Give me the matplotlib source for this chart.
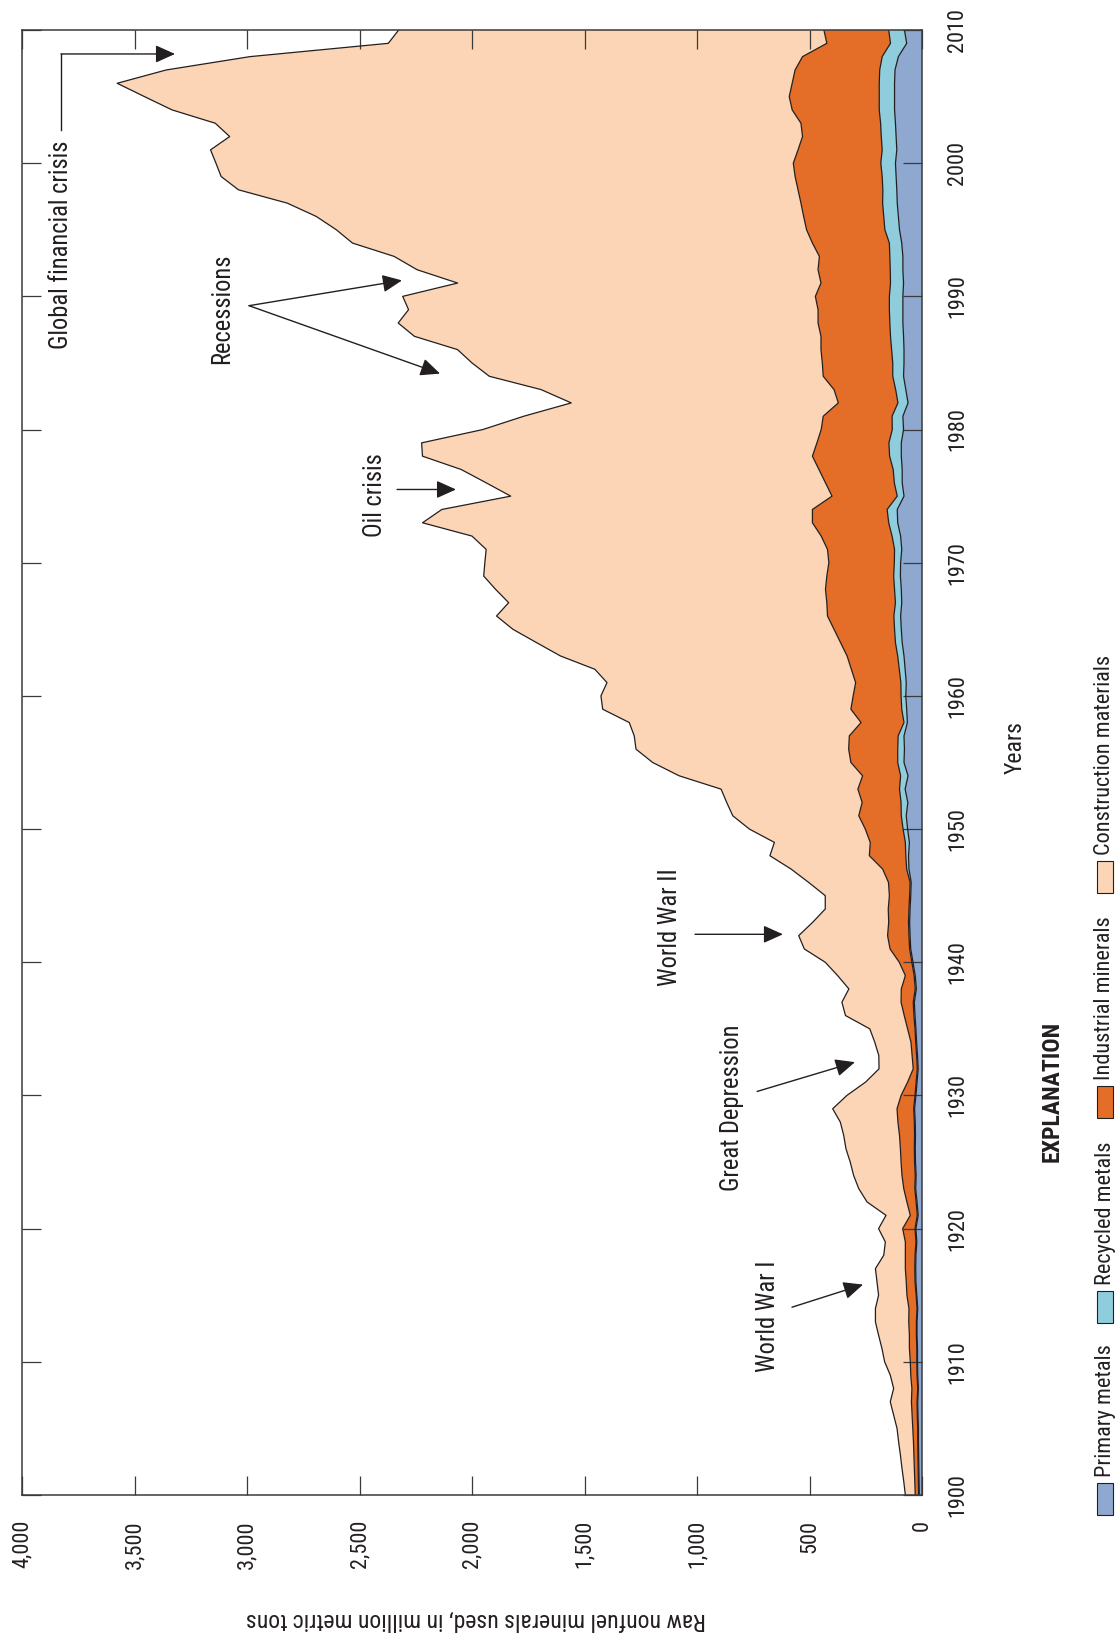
import matplotlib
matplotlib.use('Agg')
import matplotlib.pyplot as plt
from matplotlib import font_manager
from matplotlib.patches import Rectangle
import numpy as np

# million metric tons per year, 1900-2010
years = np.arange(1900, 2011)

primary = [
    12, 13, 14, 15, 16, 16, 18, 19, 16, 19,
    20, 20, 22, 22, 19, 23, 27, 28, 27, 23,
    27, 17, 22, 28, 26, 29, 30, 29, 30, 33,
    27, 22, 17, 20, 24, 27, 31, 34, 25, 30,
    40, 50, 53, 55, 53, 50, 48, 58, 60, 56,
    64, 70, 63, 75, 62, 80, 78, 80, 65, 68,
    72, 70, 75, 80, 88, 92, 95, 90, 92, 96,
    95, 90, 95, 108, 110, 80, 88, 88, 92, 92,
    82, 85, 62, 72, 82, 80, 80, 82, 85, 85,
    85, 82, 85, 85, 90, 100, 105, 110, 112, 115,
    118, 112, 115, 118, 122, 122, 122, 120, 105, 68,
    78]

recycled = [
    3, 3, 3, 3, 3, 3, 3, 3, 3, 3,
    3, 3, 3, 3, 3, 3, 4, 4, 4, 4,
    4, 4, 4, 4, 4, 4, 4, 4, 4, 4,
    4, 4, 4, 4, 4, 4, 5, 5, 5, 5,
    5, 5, 5, 5, 5, 5, 5, 10, 12, 18,
    20, 22, 30, 25, 33, 28, 30, 26, 15, 22,
    21, 24, 26, 28, 30, 30, 30, 28, 30, 30,
    28, 32, 38, 40, 45, 30, 35, 40, 52, 55,
    50, 48, 45, 45, 48, 50, 55, 58, 58, 60,
    60, 58, 56, 58, 55, 65, 65, 65, 62, 62,
    65, 65, 66, 66, 68, 68, 68, 68, 72, 72,
    70]

industrial = [
    15, 16, 17, 18, 19, 22, 23, 25, 26, 28,
    29, 33, 31, 34, 36, 41, 39, 42, 43, 47,
    55, 31, 41, 49, 59, 60, 62, 67, 73, 74,
    62, 38, 18, 20, 21, 33, 43, 54, 62, 39,
    56, 87, 95, 88, 92, 90, 96, 107, 162, 156,
    168, 189, 173, 185, 169, 208, 218, 217, 191, 226,
    213, 201, 213, 225, 244, 269, 295, 305, 307, 297,
    291, 298, 315, 339, 332, 290, 306, 330, 343, 320,
    316, 306, 265, 274, 309, 313, 314, 309, 319, 317,
    329, 309, 321, 313, 342, 348, 356, 363, 377, 387,
    389, 374, 350, 354, 387, 400, 387, 376, 354, 283,
    288]

construction = [
    44, 49, 55, 60, 66, 70, 82, 94, 81, 91,
    114, 122, 137, 148, 149, 126, 130, 133, 96, 89,
    107, 108, 177, 200, 215, 226, 242, 248, 256, 286,
    241, 187, 152, 148, 161, 168, 261, 263, 233, 301,
    329, 381, 395, 338, 280, 285, 355, 407, 442, 426,
    515, 560, 602, 608, 815, 881, 945, 956, 1030, 1103,
    1121, 1105, 1140, 1274, 1351, 1427, 1471, 1414, 1466, 1525,
    1529, 1517, 1552, 1733, 1647, 1428, 1508, 1590, 1733, 1757,
    1504, 1331, 1187, 1302, 1484, 1557, 1615, 1807, 1866, 1820,
    1834, 1615, 1782, 1890, 2044, 2090, 2166, 2283, 2487, 2551,
    2566, 2611, 2546, 2603, 2756, 2866, 3000, 2795, 2456, 1949,
    1890]

series_names = ['Primary metals', 'Recycled metals', 'Industrial minerals',
                'Construction materials']
series_colors = ['#8fa8cf', '#8fcddd', '#e46d27', '#fbd5b5']

value_ticks = [0, 500, 1000, 1500, 2000, 2500, 3000, 3500, 4000]
value_labels = ['0', '500', '1,000', '1,500', '2,000', '2,500', '3,000',
                '3,500', '4,000']
year_ticks = list(range(1900, 2011, 10))

# annotations: (text, text position, arrow path) in (value, year)
notes = [
    ('World War I', (684, 1913.4), [(578, 1914.1), (262, 1915.8)]),
    ('Great Depression', (844, 1929.1), [(733, 1930.3), (298, 1932.5)]),
    ('World War II', (1120, 1942.65), [(1009, 1942.1), (618, 1942.1)]),
    ('Oil crisis', (2431, 1975.1), [(2333, 1975.5), (2071, 1975.5)]),
]

INK = '#231f20'
W, H = 1120, 1644

# the original uses a condensed face; take one if the system has it
installed = {f.name for f in font_manager.fontManager.ttflist}
narrow = None
for cand in ['Liberation Sans Narrow', 'Roboto Condensed',
             'Noto Sans Condensed', 'Noto Sans SemiCondensed',
             'DejaVu Sans Condensed', 'Open Sans Condensed']:
    if cand in installed:
        narrow = cand
        break
if narrow is None:
    for n in sorted(installed):
        if ('Condensed' in n or 'Narrow' in n) and 'Extra' not in n:
            narrow = n
            break
if narrow is not None:
    plt.rcParams['font.family'] = [narrow, 'DejaVu Sans']
    k = 1.07
else:
    plt.rcParams['font.family'] = ['DejaVu Sans']
    k = 0.8


def fx(px):
    return px / W


def fy(py):
    return 1 - py / H


fig = plt.figure(figsize=(W / 100, H / 100), dpi=100)
ax = fig.add_axes([fx(22), fy(1495), fx(922) - fx(22), fy(30) - fy(1495)])

# stacked areas, drawn sideways (values run right to left)
layers = [np.array(s, dtype=float) for s in
          (primary, recycled, industrial, construction)]
base = np.zeros(len(years))
for vals, col in zip(layers, series_colors):
    top = base + vals
    ax.fill_betweenx(years, base, top, facecolor=col, edgecolor='none')
    base = top
base = np.zeros(len(years))
for vals in layers:
    base = base + vals
    ax.plot(base, years, color=INK, lw=0.9)

ax.set_xlim(4000, 0)
ax.set_ylim(1900, 2010)

ax.set_xticks(value_ticks)
ax.set_xticklabels(value_labels, rotation=90, fontsize=15 * k, color=INK)
ax.yaxis.tick_right()
ax.set_yticks(year_ticks)
ax.set_yticklabels([str(y) for y in year_ticks], rotation=90,
                   fontsize=15 * k, color=INK, va='center')
ax.tick_params(axis='both', direction='in', length=14, width=0.9,
               color='#3a3a3a', top=True, bottom=True, left=True,
               right=True, labelleft=False, labelright=True)
ax.tick_params(axis='x', pad=18)
ax.tick_params(axis='y', pad=18)
for sp in ax.spines.values():
    sp.set_color('#3a3a3a')
    sp.set_linewidth(1.1)

# event annotations
note_size = 16.5 * k
arrow_kw = dict(arrowstyle='-|>,head_length=0.6,head_width=0.27',
                mutation_scale=20, color=INK, lw=1, shrinkA=0, shrinkB=0)
for label, (tv, ty), path in notes:
    ax.text(tv, ty, label, rotation=90, ha='center', va='center',
            fontsize=note_size, color=INK)
    ax.annotate('', xy=path[1], xytext=path[0], arrowprops=arrow_kw)

ax.text(3111, 1989.05, 'Recessions', rotation=90, ha='center',
        va='center', fontsize=note_size, color=INK)
ax.annotate('', xy=(2311, 1991.2), xytext=(2991, 1989.3),
            arrowprops=arrow_kw)
ax.annotate('', xy=(2142, 1984.2), xytext=(2991, 1989.3),
            arrowprops=arrow_kw)

ax.text(3827, 1993.9, 'Global financial crisis', rotation=90, ha='center',
        va='center', fontsize=note_size, color=INK)
ax.plot([3827, 3827], [2002.5, 2008.2], color=INK, lw=1)
ax.annotate('', xy=(3320, 2008.2), xytext=(3827, 2008.2),
            arrowprops=arrow_kw)

# axis titles
fig.text(fx(1015), fy(748), 'Years', rotation=90, ha='center', va='center',
         fontsize=16 * k, color=INK)
fig.text(fx(476), fy(1620), 'Raw nonfuel minerals used, in million metric tons',
         rotation=180, ha='center', va='center', fontsize=16 * k, color=INK)

# explanation
fig.text(fx(1052), fy(1091), 'EXPLANATION', rotation=90, ha='center',
         va='center', fontsize=16 * k, fontweight='bold', color=INK)
swatch_bottoms = [1515, 1323, 1118, 893]
for name, col, yb in zip(series_names, series_colors, swatch_bottoms):
    fig.patches.append(Rectangle((fx(1097), fy(yb)), fx(16), 32 / H,
                                 transform=fig.transFigure, facecolor=col,
                                 edgecolor=INK, lw=0.8))
    fig.text(fx(1105), fy(yb - 38), name, rotation=90, ha='center',
             va='bottom', fontsize=15 * k, color=INK)

fig.savefig('out.png', dpi=100)
